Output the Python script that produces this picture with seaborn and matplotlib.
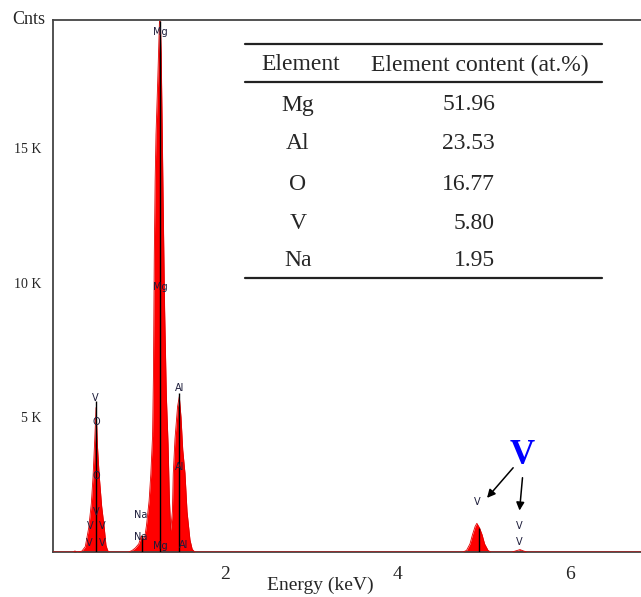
import matplotlib
matplotlib.use("Agg")
import matplotlib.pyplot as plt
import seaborn as sns
import numpy as np
import pandas as pd

# ---- data ----
energy_kev = [0.00, 0.24, 0.26, 0.28, 0.34, 0.38, 0.42, 0.45, 0.47, 0.49, 0.505, 0.52, 0.54, 0.57, 0.60, 0.62, 0.64, 0.66,
              0.88, 0.92, 0.96, 1.00, 1.03, 1.05, 1.07, 1.09, 1.12, 1.14, 1.16, 1.17, 1.18, 1.19, 1.20, 1.22, 1.24, 1.25,
              1.26, 1.27, 1.285, 1.30, 1.32, 1.34, 1.355, 1.37, 1.39, 1.40, 1.42, 1.45, 1.47, 1.49, 1.51, 1.536, 1.56,
              1.594, 1.62, 1.65,
              4.76, 4.80, 4.84, 4.87, 4.90, 4.92, 4.95, 4.98, 5.01, 5.05, 5.08,
              5.33, 5.37, 5.42, 5.46, 5.50, 6.85]
counts = [0, 0, 40, 0, 30, 200, 900, 1800, 2800, 4200, 5360, 4000, 2900, 1700, 900, 250, 50, 0,
          0, 50, 150, 300, 600, 480, 560, 1000, 1900, 2900, 4300, 6500, 11000, 13800, 15500, 17500, 19700, 19700,
          18500, 16200, 12500, 9000, 5800, 4000, 2000, 800, 1500, 2900, 4200, 5400, 5770, 5000, 3800, 2930, 1500,
          450, 100, 0,
          0, 60, 300, 650, 950, 1065, 900, 650, 300, 60, 0,
          0, 40, 90, 40, 0, 0]

marker_energy = [0.504, 1.04, 1.246, 1.47, 4.95]
marker_top = [5600, 620, 19700, 5900, 900]

peak_label_text = ["Mg", "Mg", "Mg", "Al", "Al", "Al", "Na", "Na",
                   "V", "O", "O", "V", "V", "V", "V", "V",
                   "V", "V", "V"]
peak_label_e = [1.245, 1.245, 1.25, 1.47, 1.47, 1.515, 1.02, 1.02,
                0.50, 0.505, 0.505, 0.505, 0.435, 0.575, 0.43, 0.575,
                4.93, 5.41, 5.41]
peak_label_c = [19310, 9840, 220, 6090, 3170, 250, 1370, 570,
                5720, 4830, 2820, 1490, 970, 970, 330, 330,
                1870, 970, 380]

table_elements = ["Mg", "Al", "O", "V", "Na"]
table_content = ["51.96", "23.53", "16.77", "5.80", "1.95"]
table_headers = ["Element", "Element content (at.%)"]

x_major = [2, 4, 6]
x_minor = [1, 3, 5]
y_major = [5000, 10000, 15000]
y_major_labels = ["5 K", "10 K", "15 K"]
y_minor = [1000, 2000, 3000, 4000, 6000, 7000, 8000, 9000, 11000, 12000, 13000, 14000, 16000, 17000, 18000, 19000]

# ---- figure ----
sns.set_style("white")
plt.rcParams['font.family'] = ['Liberation Serif', 'DejaVu Serif']

fig = plt.figure(figsize=(6.41, 5.97), dpi=100)
ax = fig.add_axes([52.5 / 641, 1 - 552 / 597, 1 - 52.5 / 641, (552 - 20) / 597])

df = pd.DataFrame({"Energy": energy_kev, "Counts": counts})
ax.fill_between(df["Energy"], 0, df["Counts"], color="#ff0000", linewidth=0, zorder=2)
sns.lineplot(data=df, x="Energy", y="Counts", ax=ax, color="#e00000", linewidth=0.6,
             estimator=None, sort=False, zorder=3)

ax.vlines(marker_energy, 0, marker_top, color="black", linewidth=1.0, zorder=4)

for t, e, c in zip(peak_label_text, peak_label_e, peak_label_c):
    ax.text(e, c, t, fontsize=7, family=["DejaVu Sans"], color="#1c1c3a",
            ha="center", va="center", zorder=5)

ax.set_xlim(0, (641 - 52.5) / 86.25)
ax.set_ylim(0, 19750)

ax.set_xticks(x_major)
ax.set_xticklabels([str(v) for v in x_major], fontsize=14)
ax.set_xticks(x_minor, minor=True)
ax.set_yticks(y_major)
ax.set_yticklabels(y_major_labels, fontsize=10)
ax.set_yticks(y_minor, minor=True)
ax.tick_params(axis="both", which="major", direction="out", length=6, width=1.1, color="#444444", pad=2)
ax.tick_params(axis="both", which="minor", direction="out", length=3, width=1.0, color="#444444")
ax.tick_params(axis="y", which="major", pad=2)
ax.tick_params(axis="x", which="major", pad=4)

ax.set_xlabel("Energy (keV)", fontsize=14)
ax.xaxis.set_label_coords((320 - 52.5) / (641 - 52.5), -(577 - 552) / (552 - 20))
ax.set_ylabel("")
ax.text(-0.012, 1.0, "Cnts", transform=ax.transAxes, fontsize=13, ha="right", va="center")

for s in ["left", "bottom", "top"]:
    ax.spines[s].set_color("#444444")
    ax.spines[s].set_linewidth(1.3)
ax.spines["right"].set_visible(False)

# V annotation
ax.text(5.445, 3600, "V", fontsize=25, fontweight="bold", color="#0000ff",
        ha="center", va="center", zorder=6)
ax.annotate("", xy=(5.017, 1931), xytext=(5.362, 3205),
            arrowprops=dict(arrowstyle="-|>", color="black", lw=1.1, mutation_scale=12))
ax.annotate("", xy=(5.412, 1437), xytext=(5.452, 2860),
            arrowprops=dict(arrowstyle="-|>", color="black", lw=1.1, mutation_scale=12))

# ---- table (figure pixel coords -> figure fraction) ----
def fx(px):
    return px / 641

def fy(py):
    return 1 - py / 597

for yline in [44.3, 82.3, 277.7]:
    fig.add_artist(plt.Line2D([fx(245), fx(602)], [fy(yline), fy(yline)], color="#222222", linewidth=1.6))

fig.text(fx(300.5), fy(65), table_headers[0], fontsize=17, ha="center", va="center")
fig.text(fx(480), fy(65), table_headers[1], fontsize=17, ha="center", va="center")
row_y = [105, 143.3, 184.3, 223.3, 261]
for el, val, ry in zip(table_elements, table_content, row_y):
    fig.text(fx(298), fy(ry), el, fontsize=17, ha="center", va="center")
    fig.text(fx(495), fy(ry), val, fontsize=17, ha="right", va="center")

fig.savefig("out.png", dpi=100)
